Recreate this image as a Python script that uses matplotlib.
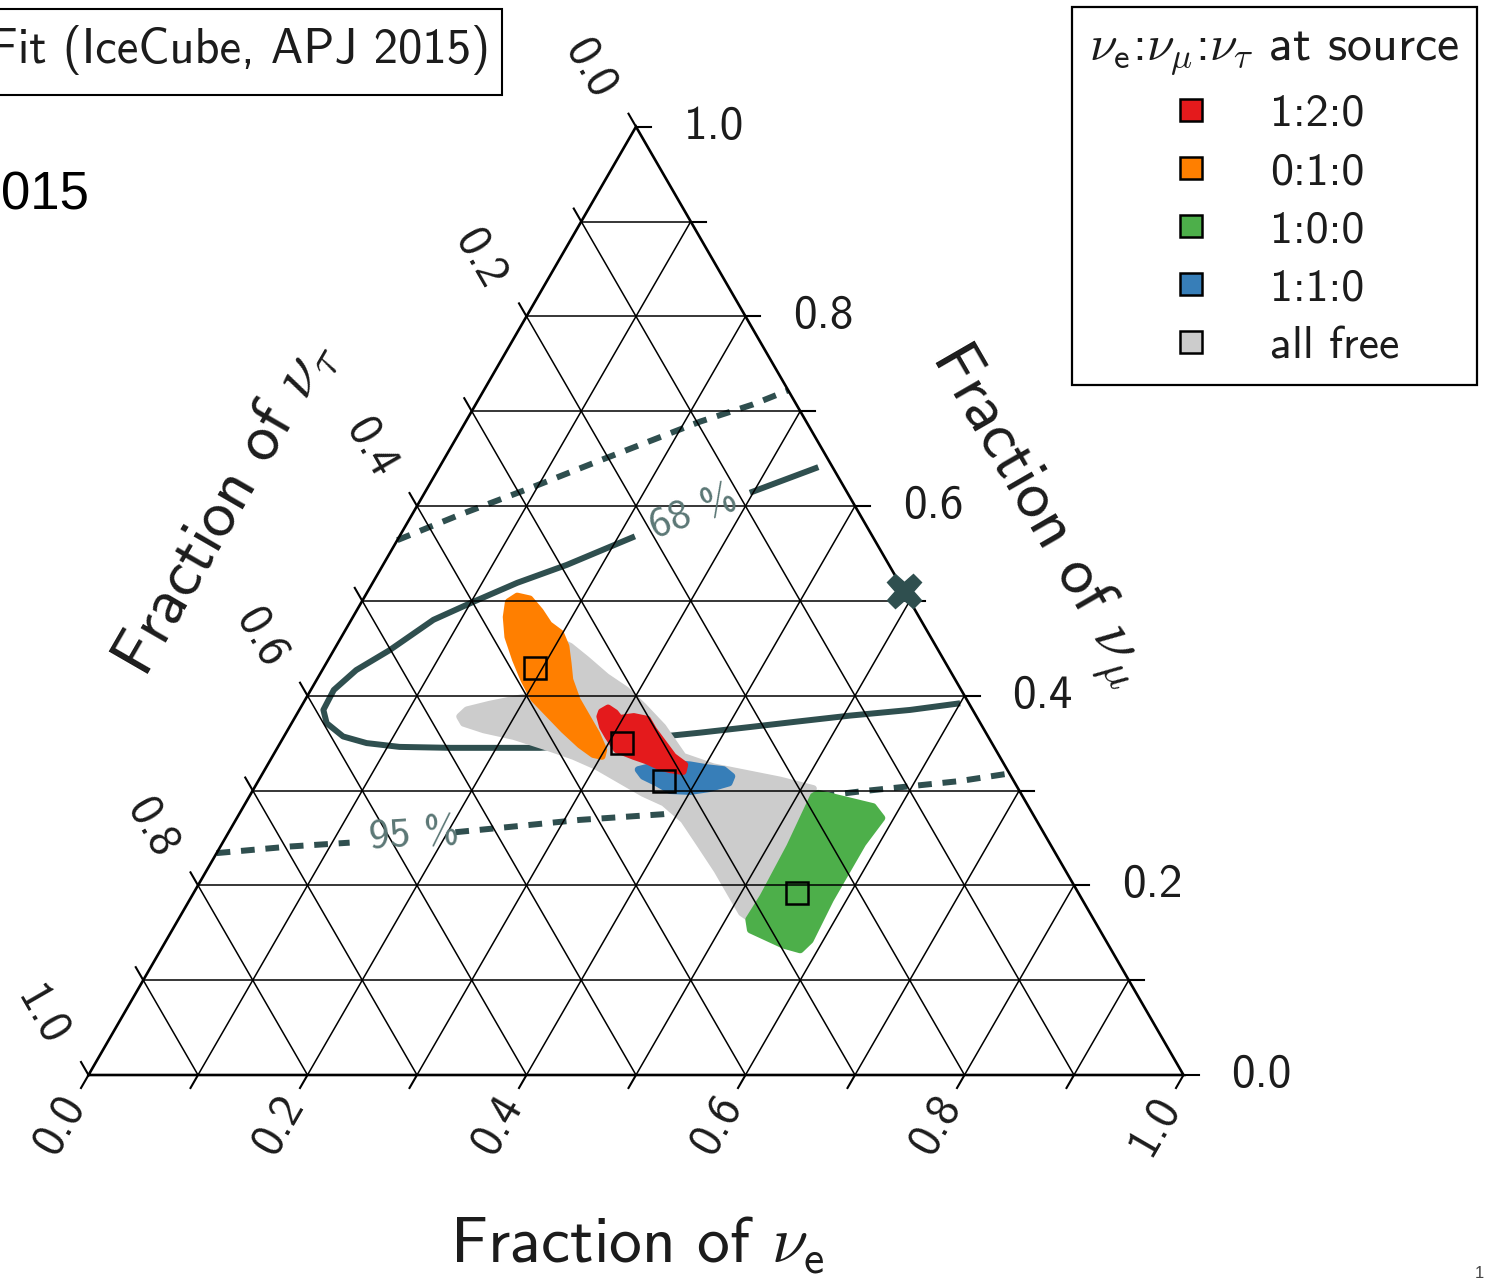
import numpy as np
import matplotlib
matplotlib.use("Agg")
import matplotlib.pyplot as plt
from matplotlib.patches import Polygon, Rectangle
from matplotlib.lines import Line2D

plt.rcParams['font.family'] = ['cmss10', 'DejaVu Sans']
plt.rcParams['mathtext.fontset'] = 'cm'
plt.rcParams['axes.unicode_minus'] = False
plt.rcParams['text.color'] = '#1c1c1c'

# ---------------- data (fractions of nu_e and nu_mu; nu_tau = 1 - both) -------------
tick_values = [0.0, 0.2, 0.4, 0.6, 0.8, 1.0]
tick_labels = ['0.0', '0.2', '0.4', '0.6', '0.8', '1.0']
minor_steps = [0.1, 0.2, 0.3, 0.4, 0.5, 0.6, 0.7, 0.8, 0.9]

source_labels = ['1:2:0', '0:1:0', '1:0:0', '1:1:0', 'all free']
source_colors = ['#e41a1c', '#ff7f00', '#4daf4a', '#377eb8', '#cccccc']

# flavour composition at Earth for each source ratio (open squares)
pred_fe = [0.312, 0.193, 0.551, 0.371]
pred_fm = [0.350, 0.429, 0.192, 0.310]

# IceCube best fit
best_fe = [0.49]
best_fm = [0.51]

# allowed regions
grey_fe = [0.150, 0.153, 0.171, 0.190, 0.201, 0.198, 0.214, 0.236, 0.263, 0.288, 0.312, 0.341,
           0.375, 0.408, 0.442, 0.476, 0.511, 0.512, 0.517, 0.518, 0.518, 0.511, 0.490, 0.466,
           0.436, 0.409, 0.382, 0.358, 0.330, 0.302, 0.275, 0.245, 0.210, 0.179, 0.157]
grey_fm = [0.378, 0.385, 0.391, 0.396, 0.399, 0.459, 0.452, 0.438, 0.420, 0.406, 0.389, 0.367,
           0.336, 0.325, 0.318, 0.311, 0.302, 0.269, 0.223, 0.185, 0.167, 0.171, 0.192, 0.216,
           0.244, 0.269, 0.287, 0.297, 0.311, 0.325, 0.336, 0.346, 0.357, 0.364, 0.371]

orange_fe = [0.134, 0.139, 0.152, 0.168, 0.183, 0.198, 0.210, 0.221, 0.231, 0.248, 0.266, 0.284,
             0.299, 0.301, 0.292, 0.275, 0.252, 0.228, 0.208, 0.189, 0.171, 0.152, 0.140]
orange_fm = [0.499, 0.505, 0.502, 0.489, 0.475, 0.466, 0.452, 0.434, 0.417, 0.396, 0.378, 0.360,
             0.343, 0.336, 0.338, 0.348, 0.364, 0.382, 0.397, 0.417, 0.438, 0.462, 0.483]

green_fe = [0.518, 0.575, 0.589, 0.585, 0.585, 0.588, 0.584, 0.566, 0.528, 0.521, 0.522, 0.520, 0.515]
green_fm = [0.297, 0.283, 0.271, 0.244, 0.185, 0.142, 0.132, 0.137, 0.153, 0.164, 0.188, 0.241, 0.294]

blue_fe = [0.341, 0.350, 0.367, 0.386, 0.403, 0.419, 0.430, 0.431, 0.416, 0.400, 0.381, 0.365, 0.349]
blue_fm = [0.322, 0.325, 0.329, 0.327, 0.324, 0.322, 0.315, 0.308, 0.302, 0.299, 0.300, 0.308, 0.315]

red_fe = [0.277, 0.281, 0.290, 0.297, 0.309, 0.323, 0.334, 0.350, 0.366, 0.381, 0.383, 0.370,
          0.359, 0.345, 0.330, 0.311, 0.296, 0.286, 0.278]
red_fm = [0.383, 0.387, 0.382, 0.376, 0.378, 0.375, 0.364, 0.350, 0.336, 0.327, 0.320, 0.322,
          0.325, 0.331, 0.336, 0.343, 0.357, 0.367, 0.378]

# 68 % contour (broken by its label)
c68_tip_fe = [0.297, 0.346]
c68_tip_fm = [0.614, 0.641]
c68_fe = [0.215, 0.168, 0.132, 0.102, 0.075, 0.051, 0.031, 0.021, 0.022, 0.032, 0.054, 0.079,
          0.111, 0.158, 0.204, 0.240, 0.293, 0.346, 0.378, 0.421, 0.463, 0.506, 0.558, 0.600]
c68_fm = [0.568, 0.538, 0.519, 0.499, 0.480, 0.448, 0.427, 0.406, 0.385, 0.371, 0.357, 0.350,
          0.346, 0.345, 0.345, 0.345, 0.349, 0.357, 0.361, 0.367, 0.373, 0.379, 0.385, 0.392]

# 95 % contour
c95_up_fe = [0.000, 0.044, 0.094, 0.143, 0.214, 0.253, 0.278]
c95_up_fm = [0.564, 0.591, 0.619, 0.648, 0.689, 0.707, 0.722]
c95_lo_a_fe = [0.000, 0.064, 0.116]
c95_lo_a_fm = [0.234, 0.241, 0.245]
c95_lo_b_fe = [0.207, 0.257, 0.314, 0.387, 0.462, 0.555, 0.641, 0.682]
c95_lo_b_fm = [0.256, 0.262, 0.269, 0.275, 0.285, 0.299, 0.310, 0.318]

# ---------------- helpers ----------------
S3 = np.sqrt(3) / 2


def proj(fe, fm):
    fe = np.asarray(fe, float)
    fm = np.asarray(fm, float)
    return fe + fm / 2, fm * S3


PX = 1095.0  # pixels per unit side


def px2d(px, py):
    return (px - 88.5) / PX, (1075 - py) / PX


fig = plt.figure(figsize=(14.88, 12.82), dpi=100)
ax = fig.add_axes([0, 0, 1, 1])
ax.set_xlim(-88.5 / PX, (1488 - 88.5) / PX)
ax.set_ylim(-(1282 - 1075) / PX, 1075 / PX)
ax.axis('off')

slate = '#2f4f4f'
label_slate = '#5b7775'

# contours (under the regions)
lw_c = 4.3
x, y = proj(c68_fe, c68_fm)
ax.plot(x, y, color=slate, lw=lw_c, solid_capstyle='butt', zorder=2)
x, y = proj(c68_tip_fe, c68_tip_fm)
ax.plot(x, y, color=slate, lw=lw_c, solid_capstyle='butt', zorder=2)
for fe_, fm_ in [(c95_up_fe, c95_up_fm), (c95_lo_a_fe, c95_lo_a_fm), (c95_lo_b_fe, c95_lo_b_fm)]:
    x, y = proj(fe_, fm_)
    ax.plot(x, y, color=slate, lw=lw_c, dashes=(2.3, 1.8), dash_capstyle='butt', zorder=2)

# regions
for fe_, fm_, col in [(grey_fe, grey_fm, source_colors[4]),
                      (orange_fe, orange_fm, source_colors[1]),
                      (green_fe, green_fm, source_colors[2]),
                      (blue_fe, blue_fm, source_colors[3]),
                      (red_fe, red_fm, source_colors[0])]:
    x, y = proj(fe_, fm_)
    ax.add_patch(Polygon(np.column_stack([x, y]), closed=True, facecolor=col,
                         edgecolor=col, lw=5, joinstyle='round', zorder=3))

# grid
for c in minor_steps:
    for a, b in [((c, 0), (c, 1 - c)), ((0, c), (1 - c, c)), ((1 - c, 0), (0, 1 - c))]:
        x, y = proj([a[0], b[0]], [a[1], b[1]])
        ax.plot(x, y, color='black', lw=1.1, zorder=4)

# triangle
x, y = proj([0, 1, 0, 0], [0, 0, 1, 0])
ax.plot(x, y, color='black', lw=1.9, zorder=5, solid_joinstyle='miter')

# ticks
L = 15 / PX
all_ticks = [0.0] + minor_steps + [1.0]
for c in all_ticks:
    bx, by = proj(c, 0)
    ax.plot([bx, bx - 0.5 * L], [by, by - S3 * L], color='black', lw=1.5, zorder=5)
    bx, by = proj(1 - c, c)
    ax.plot([bx, bx + L], [by, by], color='black', lw=1.5, zorder=5)
    bx, by = proj(0, 1 - c)
    ax.plot([bx, bx - 0.5 * L], [by, by + S3 * L], color='black', lw=1.5, zorder=5)

tfs = 34
for c, lab in zip(tick_values, tick_labels):
    bx, by = proj(c, 0)
    ax.text(bx - 29 / PX, by - 50 / PX, lab, rotation=60, ha='center', va='center',
            fontsize=tfs, rotation_mode='anchor')
    bx, by = proj(1 - c, c)
    ax.text(bx + 78 / PX, by, lab, ha='center', va='center', fontsize=tfs)
    bx, by = proj(0, 1 - c)
    ax.text(bx - 47 / PX, by + 58 / PX, lab, rotation=-60, ha='center', va='center',
            fontsize=tfs, rotation_mode='anchor')

# axis titles
afs = 47
ax.text(*px2d(637, 1245), r'Fraction of $\nu_\mathsf{e}$', ha='center', va='center', fontsize=afs)
ax.text(*px2d(226, 507), r'Fraction of $\nu_\tau$', ha='center', va='center', fontsize=afs,
        rotation=60, rotation_mode='anchor')
ax.text(*px2d(1038, 515), r'Fraction of $\nu_\mu$', ha='center', va='center', fontsize=afs,
        rotation=-60, rotation_mode='anchor')

# contour labels
ax.text(*px2d(694, 513), '68 %', ha='center', va='center', fontsize=30, color=label_slate,
        rotation=21, rotation_mode='anchor', zorder=7)
ax.text(*px2d(414, 835), '95 %', ha='center', va='center', fontsize=30, color=label_slate,
        rotation=4, rotation_mode='anchor', zorder=7)

# predicted points and best fit
x, y = proj(pred_fe, pred_fm)
ax.plot(x, y, ls='none', marker='s', ms=16, mfc='none', mec='black', mew=1.8, zorder=6)
x, y = proj(best_fe, best_fm)
ax.plot(x, y, ls='none', marker='X', ms=25, color=slate, mec=slate, zorder=6)

# legend
handles = [Line2D([], [], ls='none', marker='s', ms=16, mfc=c, mec='black', mew=1.8)
           for c in source_colors]
leg = fig.legend(handles, source_labels,
                 title=r'$\nu_\mathsf{e}$:$\nu_\mu$:$\nu_\tau$ at source',
                 loc='upper right', bbox_to_anchor=(1477 / 1488, 1 - 7 / 1282),
                 frameon=True, fancybox=False, edgecolor='black', framealpha=1,
                 fontsize=33, title_fontsize=36, handlelength=1.8, handletextpad=0.83,
                 labelspacing=0.37, borderpad=0.38, borderaxespad=0)
leg.get_frame().set_linewidth(1.6)

# slide remnants (top left)
fig.patches.append(Rectangle((-5 / 1488, 1 - 95 / 1282), 507 / 1488, 86 / 1282,
                             transform=fig.transFigure, fill=False, edgecolor='black', lw=1.5))
fig.text(490 / 1488, 1 - 50 / 1282, 'Fit (IceCube, APJ 2015)', ha='right', va='center', fontsize=35)
fig.text(1 / 1488, 1 - 196 / 1282, '015', ha='left', va='center', fontsize=38,
         family='Liberation Sans', color='black')
fig.text(1484 / 1488, 1 - 1274 / 1282, '1', ha='right', va='center', fontsize=12,
         family='Liberation Sans', color='#444444')

fig.savefig('out.png', dpi=100)
